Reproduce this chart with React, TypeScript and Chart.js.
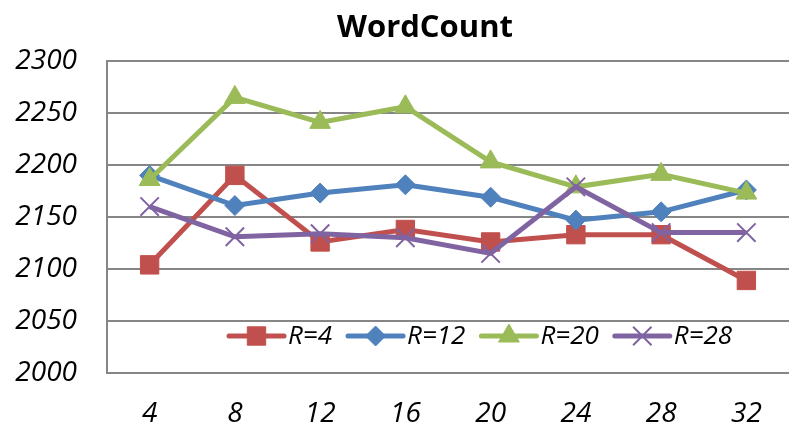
import React, { useEffect, useRef } from 'react';
import { Chart, registerables } from 'chart.js';
import { drawPoint } from 'chart.js/helpers';

Chart.register(...registerables);

const titleText = 'WordCount';
const categories = ['4', '8', '12', '16', '20', '24', '28', '32'];
const seriesLabels = ['R=4', 'R=12', 'R=20', 'R=28'];
const r4 = [2104, 2190, 2126, 2138, 2126, 2133, 2133, 2089];
const r12 = [2190, 2161, 2173, 2181, 2169, 2147, 2155, 2176];
const r20 = [2186, 2265, 2241, 2256, 2203, 2179, 2191, 2173];
const r28 = [2160, 2131, 2134, 2130, 2115, 2179, 2135, 2135];
const yMin = 2000;
const yMax = 2300;
const yStep = 50;

const colors = ['#C0504D', '#4F81BD', '#9BBB59', '#8064A2'];
const pointStyles = ['rect', 'rectRot', 'triangle', 'crossRot'];
const pointRadii = [13, 10, 12, 13];
const FONT = '"Open Sans", "Liberation Sans", sans-serif';

const overlayPlugin = {
  id: 'overlay',
  afterDraw(chart: any) {
    const ctx = chart.ctx;
    const area = chart.chartArea;
    ctx.save();
    // title
    ctx.fillStyle = '#000';
    ctx.font = `bold 31px ${FONT}`;
    ctx.textAlign = 'center';
    ctx.textBaseline = 'alphabetic';
    ctx.fillText(titleText, 425, 37);
    // legend inside plot area
    const y = area.bottom - 37;
    let x = area.left + 122;
    ctx.font = `italic 26px ${FONT}`;
    ctx.textAlign = 'left';
    ctx.textBaseline = 'middle';
    chart.data.datasets.forEach((ds: any) => {
      ctx.strokeStyle = ds.borderColor;
      ctx.lineWidth = 5;
      ctx.lineCap = 'round';
      ctx.beginPath();
      ctx.moveTo(x, y);
      ctx.lineTo(x + 55, y);
      ctx.stroke();
      ctx.lineCap = 'butt';
      ctx.fillStyle = ds.pointBackgroundColor;
      ctx.strokeStyle = ds.pointBorderColor;
      ctx.lineWidth = ds.pointBorderWidth;
      drawPoint(ctx, { pointStyle: ds.pointStyle, radius: ds.pointRadius, rotation: 0, borderWidth: ds.pointBorderWidth }, x + 27.5, y);
      ctx.fillStyle = '#000';
      ctx.fillText(ds.label, x + 59, y + 1);
      const w = ctx.measureText(ds.label).width;
      x += 59 + w + 16;
    });
    ctx.restore();
  },
};

export default function App() {
  const ref = useRef<HTMLCanvasElement>(null);
  useEffect(() => {
    if (!ref.current) return;
    const series = [r4, r12, r20, r28];
    const chart = new Chart(ref.current, {
      type: 'line',
      data: {
        labels: categories,
        datasets: series.map((d, i) => ({
          label: seriesLabels[i],
          data: d,
          borderColor: colors[i],
          backgroundColor: colors[i],
          borderWidth: 5,
          pointStyle: pointStyles[i],
          pointRadius: pointRadii[i],
          pointHoverRadius: pointRadii[i],
          pointBackgroundColor: colors[i],
          pointBorderColor: colors[i],
          pointBorderWidth: i === 3 ? 2 : 1,
          tension: 0,
          fill: false,
          order: 3 - i,
        })),
      },
      options: {
        responsive: false,
        animation: false,
        layout: { padding: { left: 13, right: 4, top: 61, bottom: 0 } },
        plugins: {
          legend: { display: false },
          title: { display: false },
          tooltip: { enabled: false },
        },
        scales: {
          x: {
            offset: true,
            grid: { display: false, drawTicks: false },
            border: { display: false },
            afterFit: (s: any) => { s.height = 59; },
            ticks: {
              color: '#000',
              padding: 24,
              font: { family: FONT, size: 28, style: 'italic' },
              maxRotation: 0,
            },
          },
          y: {
            min: yMin,
            max: yMax,
            grid: { color: '#868686', lineWidth: 2, drawTicks: false },
            border: { display: true, color: '#868686', width: 2 },
            afterFit: (s: any) => { s.width = 94; },
            ticks: {
              stepSize: yStep,
              color: '#000',
              padding: 30,
              font: { family: FONT, size: 28, style: 'italic' },
              callback: (v: any) => String(v),
            },
          },
        },
      },
      plugins: [overlayPlugin],
    });
    return () => chart.destroy();
  }, []);
  return (
    <div style={{ position: 'fixed', left: 0, top: 0, width: 796, height: 432, overflow: 'hidden', background: '#fff' }}>
      <canvas ref={ref} width={804} height={432} style={{ display: 'block' }} />
    </div>
  );
}
